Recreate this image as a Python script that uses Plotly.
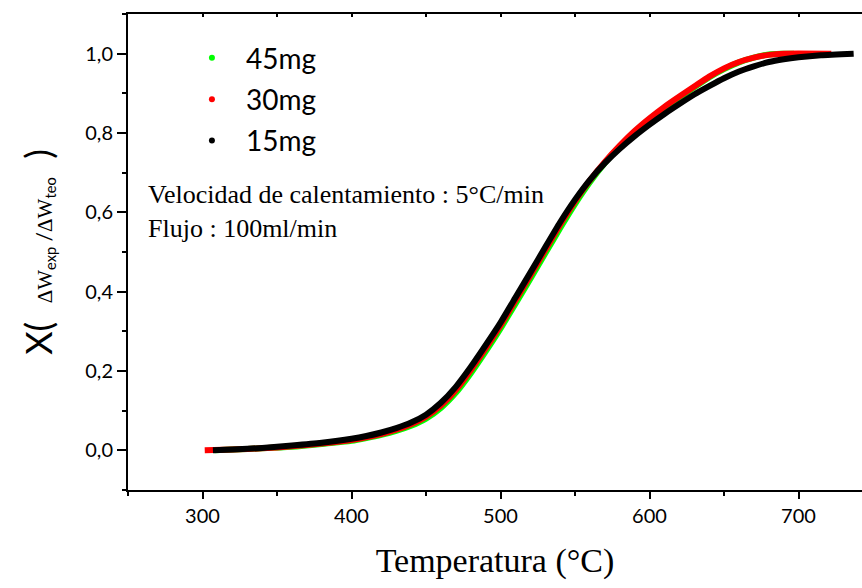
import plotly.graph_objects as go

# Temperature (°C) and conversion X for each sample mass
t_45 = [308, 320, 340, 360, 380, 400, 410, 420, 430, 440, 450, 460, 470, 480, 490, 500, 510, 520, 530, 540, 550, 560, 570, 580, 590, 600, 610, 620, 630, 640, 650, 660, 670, 680, 688, 697]
x_45 = [0.0, 0.002, 0.005, 0.009, 0.016, 0.024, 0.031, 0.039, 0.049, 0.062, 0.080, 0.107, 0.145, 0.194, 0.249, 0.307, 0.369, 0.432, 0.496, 0.560, 0.621, 0.676, 0.724, 0.766, 0.803, 0.834, 0.862, 0.889, 0.915, 0.940, 0.961, 0.978, 0.990, 0.998, 1.0, 1.0]

t_30 = [301.5, 320, 340, 360, 380, 400, 410, 420, 430, 440, 450, 460, 470, 480, 490, 500, 510, 520, 530, 540, 550, 560, 570, 580, 590, 600, 610, 620, 630, 640, 650, 660, 670, 680, 690, 722]
x_30 = [0.0, 0.002, 0.005, 0.010, 0.017, 0.026, 0.033, 0.041, 0.052, 0.066, 0.085, 0.113, 0.152, 0.202, 0.257, 0.315, 0.378, 0.441, 0.505, 0.569, 0.628, 0.681, 0.727, 0.768, 0.805, 0.837, 0.866, 0.892, 0.917, 0.942, 0.963, 0.979, 0.990, 0.997, 1.0, 1.0]

t_15 = [307, 320, 340, 360, 380, 400, 410, 420, 430, 440, 450, 460, 470, 480, 490, 500, 510, 520, 530, 540, 550, 560, 570, 580, 590, 600, 610, 620, 630, 640, 650, 660, 670, 680, 690, 700, 715, 737]
x_15 = [0.0, 0.002, 0.006, 0.012, 0.019, 0.029, 0.036, 0.045, 0.056, 0.070, 0.090, 0.120, 0.160, 0.210, 0.265, 0.322, 0.385, 0.448, 0.512, 0.575, 0.632, 0.682, 0.724, 0.760, 0.792, 0.821, 0.848, 0.873, 0.897, 0.918, 0.938, 0.955, 0.968, 0.979, 0.986, 0.991, 0.996, 1.0]

series_names = ["45mg", "30mg", "15mg"]
series_colors = ["#00ff00", "#ff0000", "#000000"]
series_t = [t_45, t_30, t_15]
series_x = [x_45, x_30, x_15]

x_range = [250, 742.6]
y_range = [-0.1, 1.1]

fig = go.Figure()

for t, x, c in zip(series_t, series_x, series_colors):
    fig.add_trace(go.Scatter(x=t, y=x, mode="lines",
                             line=dict(color=c, width=6, shape="spline", smoothing=0.5),
                             showlegend=False, hoverinfo="skip"))

for i, (n, c) in enumerate(zip(series_names, series_colors)):
    fig.add_trace(go.Scatter(x=[None], y=[None], mode="markers", name=n,
                             marker=dict(color=c, size=6),
                             legendgroup=n))

# dummy trace for the top axis
fig.add_trace(go.Scatter(x=[None], y=[None], xaxis="x2", showlegend=False, hoverinfo="skip"))

ytitle = ("X(  <span style='font-family:Liberation Serif;font-size:21px'>ΔW</span>"
          "<span style='font-size:21px'><sub>exp</sub> /</span>"
          "<span style='font-family:Liberation Serif;font-size:21px'>ΔW</span>"
          "<span style='font-size:21px'><sub>teo</sub></span>  )")

fig.update_layout(
    width=862, height=588,
    margin=dict(l=128, r=0, t=14, b=98),
    paper_bgcolor="white", plot_bgcolor="white",
    separators=",.",
    font=dict(family="Lato", color="black"),
    showlegend=True,
    legend=dict(x=0.068, y=0.96, xanchor="left", yanchor="top",
                font=dict(family="Lato", size=28, color="black"),
                bgcolor="rgba(0,0,0,0)", borderwidth=0,
                tracegroupgap=2, traceorder="grouped", itemwidth=58),
    xaxis=dict(range=x_range, showline=True, linecolor="black", linewidth=2,
               showgrid=False, zeroline=False,
               ticks="outside", ticklen=7, tickwidth=1.5, tickcolor="black",
               dtick=100, tick0=0,
               minor=dict(dtick=50, tick0=0, ticks="outside", ticklen=4, tickwidth=1.5, tickcolor="black", showgrid=False),
               tickfont=dict(family="Lato", size=20, color="black"),
               title=dict(text="Temperatura (°C)", font=dict(family="Liberation Serif", size=34, color="black"), standoff=22)),
    xaxis2=dict(range=x_range, overlaying="x", side="top", anchor="y",
                showline=True, linecolor="black", linewidth=2,
                showgrid=False, zeroline=False, showticklabels=False,
                ticks="inside", ticklen=3, tickwidth=1.5, tickcolor="black",
                dtick=50, tick0=0),
    yaxis=dict(range=y_range, showline=True, linecolor="black", linewidth=2,
               showgrid=False, zeroline=False,
               ticks="outside", ticklen=9, tickwidth=1.5, tickcolor="black",
               dtick=0.2, tick0=0, tickformat=".1f",
               minor=dict(dtick=0.2, tick0=0.1, ticks="outside", ticklen=4, tickwidth=1.5, tickcolor="black", showgrid=False),
               tickfont=dict(family="Lato", size=20, color="black"),
               title=dict(text=ytitle, font=dict(family="Lato", size=36, color="black"), standoff=22)),
    annotations=[dict(text="Velocidad de calentamiento : 5°C/min<br>Flujo : 100ml/min",
                      xref="paper", yref="paper", x=0.024, y=0.655,
                      xanchor="left", yanchor="top", align="left", showarrow=False,
                      font=dict(family="Liberation Serif", size=26, color="black"))],
)

fig.write_html("out.html")
